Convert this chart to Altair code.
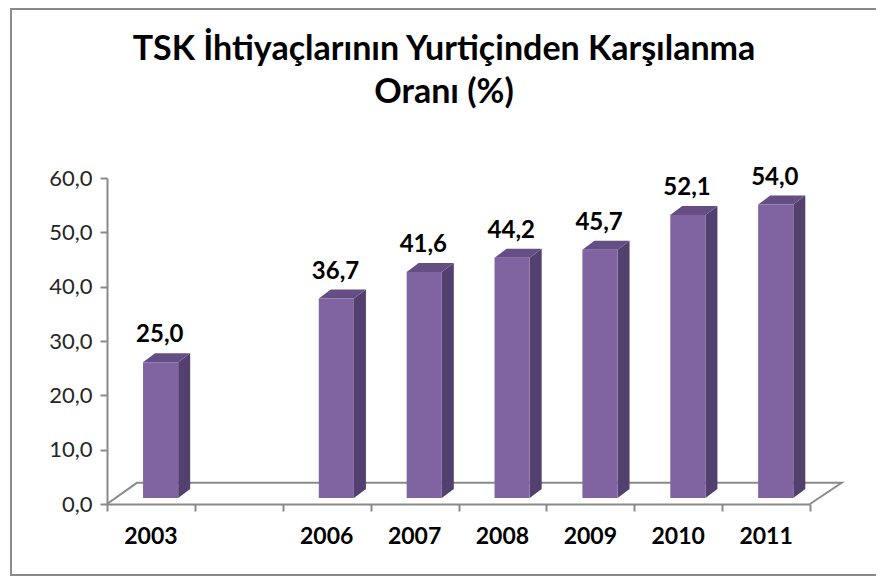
import altair as alt
import pandas as pd

years = ["2003", "", "2006", "2007", "2008", "2009", "2010", "2011"]
values = [25.0, None, 36.7, 41.6, 44.2, 45.7, 52.1, 54.0]
labels = ["25,0", "", "36,7", "41,6", "44,2", "45,7", "52,1", "54,0"]
y_ticks = [0, 10, 20, 30, 40, 50, 60]
title_lines = ["TSK İhtiyaçlarının Yurtiçinden Karşılanma", "Oranı (%)"]
floor_x = [0, 0.34, 8.36, 8]
floor_y = [0, 3.9, 3.9, 0]

FONT = "Lato"
GREY = "#8a8a8a"
PX_X = 703 / 8
PX_Y = 326 / 60
DX = 12 / PX_X      # depth of the 3D bar in category units
DY = 9 / PX_Y       # depth of the 3D bar in value units
BASE = 1.1          # front-face baseline lift in value units
SHIFT = 0.11
HALF = 0.2

rows = pd.DataFrame({"i": range(len(years)), "year": years, "value": values, "label": labels})
bars = rows.dropna(subset=["value"]).copy()

x_scale = alt.Scale(domain=[0, 8], nice=False, zero=False)
y_scale = alt.Scale(domain=[0, 60], nice=False)
x_axis = alt.Axis(values=list(range(9)), labels=False, grid=False, domainColor=GREY,
                  domainWidth=2, tickColor=GREY, tickWidth=2, tickSize=7, title=None)
y_axis = alt.Axis(values=y_ticks, grid=False, domainColor=GREY, domainWidth=2,
                  tickColor=GREY, tickWidth=2, tickSize=7, labelFont=FONT,
                  labelFontSize=22, labelColor="#262626", labelPadding=8, title=None,
                  labelExpr="replace(format(datum.value,'.1f'),'.',',')")
X = lambda f: alt.X(f, type="quantitative", scale=x_scale, axis=x_axis)
Y = lambda f: alt.Y(f, type="quantitative", scale=y_scale, axis=y_axis)

floor = alt.Chart(pd.DataFrame({"x": floor_x, "y": floor_y, "o": range(4)})).mark_line(
    color=GREY, strokeWidth=2, clip=False
).encode(x=X("x"), y=Y("y"), order="o:Q")

front = alt.Chart(bars).transform_calculate(
    x0=f"datum.i+0.5+{SHIFT}-{HALF}", x1=f"datum.i+0.5+{SHIFT}+{HALF}",
    y0=f"{BASE}", y1=f"datum.value+{BASE}"
).mark_rect(color="#8064A2").encode(x=X("x0"), x2="x1:Q", y=Y("y0"), y2="y1:Q")

side_rows = pd.concat([bars.assign(p=0), bars.assign(p=1)])

side = alt.Chart(side_rows).transform_calculate(
    xs=f"datum.i+0.5+{SHIFT}+{HALF}+datum.p*{DX}",
    y0=f"{BASE}+datum.p*{DY}", y1=f"datum.value+{BASE}+datum.p*{DY}"
).mark_area(color="#54406F", clip=False, orient="vertical").encode(
    x=X("xs"), y=Y("y0"), y2="y1:Q", detail="i:N")

top = alt.Chart(side_rows).transform_calculate(
    xl=f"datum.i+0.5+{SHIFT}-{HALF}+datum.p*{DX}", xr=f"datum.i+0.5+{SHIFT}+{HALF}+datum.p*{DX}",
    yt=f"datum.value+{BASE}+datum.p*{DY}"
).mark_area(color="#654E84", orient="horizontal", clip=False).encode(
    y=Y("yt"), x=X("xl"), x2="xr:Q", detail="i:N")

value_text = alt.Chart(bars).transform_calculate(
    xt="datum.i+0.5+0.1", yt=f"datum.value+{BASE}"
).mark_text(font=FONT, fontSize=24, fontWeight="bold", color="#000000", dy=-27, baseline="middle").encode(
    x=X("xt"), y=Y("yt"), text="label:N")

cat_text = alt.Chart(rows[rows.year != ""]).transform_calculate(xt="datum.i+0.5", yt="0").mark_text(
    font=FONT, fontSize=23, fontWeight="bold", color="#000000", dy=33, baseline="middle"
).encode(x=X("xt"), y=Y("yt"), text="year:N")

frame = alt.Chart(pd.DataFrame({"a": [0]})).mark_rect(
    fill=None, fillOpacity=0, stroke=GREY, strokeWidth=2, clip=False
).encode(x=alt.value(-96), x2=alt.value(800), y=alt.value(-169), y2=alt.value(397))

title_layers = [
    alt.Chart(pd.DataFrame({"t": [line]})).mark_text(
        font=FONT, fontSize=34, fontWeight="bold", color="#000000", baseline="middle", align="center", clip=False
    ).encode(x=alt.value(337), y=alt.value(pos), text="t:N")
    for line, pos in zip(title_lines, [-128, -85])
]

chart = alt.layer(frame, floor, side, top, front, value_text, cat_text, *title_layers).properties(
    width=703, height=326,
    padding={"left": 99, "top": 170, "right": 66, "bottom": 73},
    autosize="none",
).configure_view(stroke=None)

chart.save("out.html", embed_options={"renderer": "svg", "actions": False})
